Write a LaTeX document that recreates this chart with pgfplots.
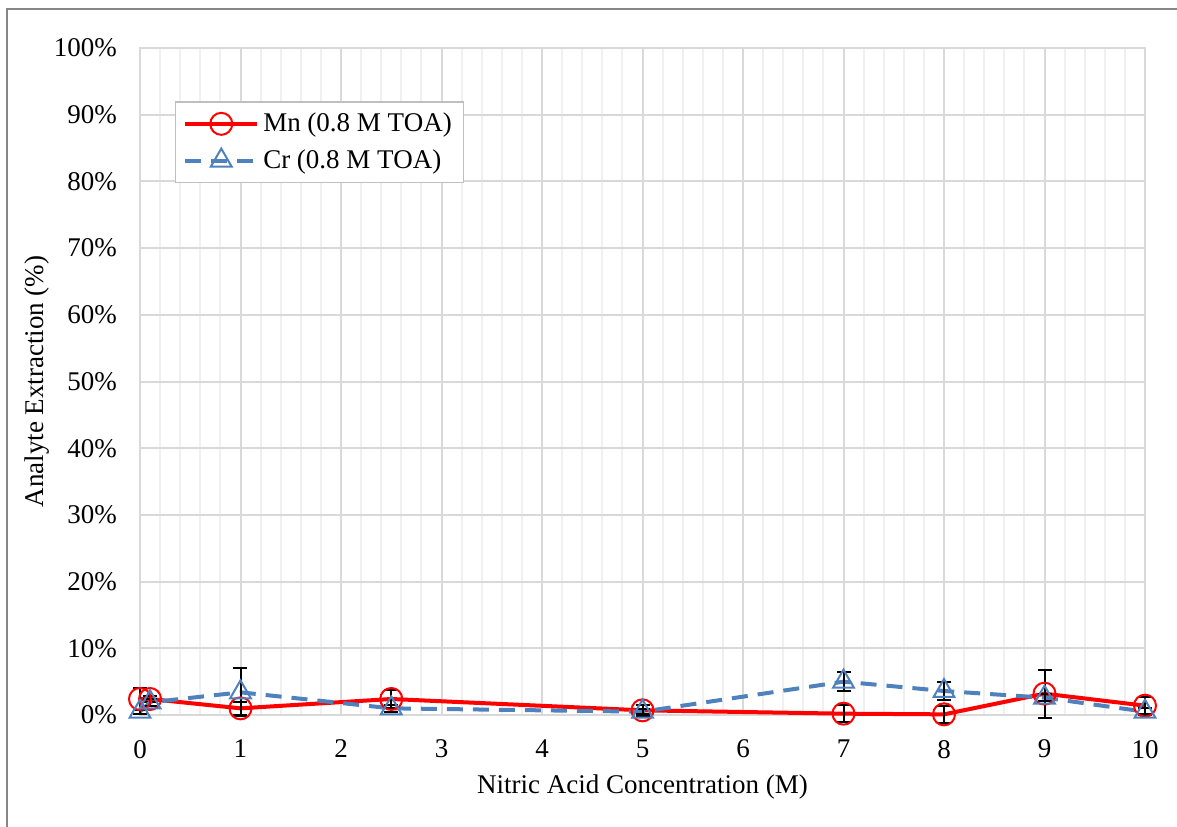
\documentclass[border=0pt]{standalone}
\usepackage{pgfplots}
\pgfplotsset{compat=1.18}
\usepackage{fontspec}
\setmainfont{Liberation Serif}
\definecolor{mnred}{RGB}{255,0,0}
\definecolor{crblue}{RGB}{79,129,189}
\definecolor{majgrid}{RGB}{217,217,217}
\definecolor{mingrid}{RGB}{240,240,240}
\definecolor{axgray}{RGB}{191,191,191}
\definecolor{framegray}{RGB}{134,134,134}
\pgfplotstableread{
x    y    e
0    2.4  1.7
0.1  2.4  0.5
1    1.0  1.0
2.5  2.4  1.4
5    0.7  0.8
7    0.2  1.3
8    0.1  1.3
9    3.2  3.6
10   1.4  1.3
}\mndata
\pgfplotstableread{
x    y    e
0    0.5  0.3
0.1  1.9  0.5
1    3.4  3.6
2.5  1.0  0.5
5    0.5  0.4
7    5.0  1.4
8    3.6  1.4
9    2.6  0.5
10   0.5  0.5
}\crdata
\begin{document}
\begin{tikzpicture}[x=1pt,y=1pt]
\useasboundingbox (-70,-55.5) rectangle (518.5,357.5);
\draw[framegray, line width=1pt] (-66.5,-80) -- (-66.5,353) -- (540,353);
\begin{axis}[
  at={(0,0)}, anchor=south west,
  scale only axis, width=502.5pt, height=333.5pt,
  xmin=0, xmax=10, ymin=0, ymax=100,
  clip=false,
  xtick={0,1,...,10},
  minor x tick num=4,
  ytick={0,10,...,100},
  yticklabels={0\%,10\%,20\%,30\%,40\%,50\%,60\%,70\%,80\%,90\%,100\%},
  /pgf/number format/assume math mode=true,
  major tick length=0pt, minor tick length=0pt,
  xmajorgrids, ymajorgrids, xminorgrids,
  major grid style={majgrid, line width=1pt},
  minor grid style={mingrid, line width=1pt},
  axis line style={majgrid, line width=1pt},
  x axis line style={axgray},
  tick label style={font=\fontsize{13.5}{16}\selectfont, black},
  xticklabel style={yshift=-9pt},
  yticklabel style={xshift=-8pt},
  xlabel={Nitric Acid Concentration (M)},
  ylabel={Analyte Extraction (\%)},
  label style={font=\fontsize{13.5}{16}\selectfont},
  xlabel style={yshift=-1.5pt},
  ylabel style={yshift=-4.5pt},
  legend style={at={(rel axis cs:0.0345,0.92)}, anchor=north west,
    draw=black!25, line width=0.6pt, font=\fontsize{13.5}{16}\selectfont,
    inner xsep=4pt, inner ysep=3.5pt, row sep=3.5pt},
  legend cell align=left,
  legend image code/.code={\draw[mark repeat=2,mark phase=2] plot coordinates {(0pt,0pt)(18pt,0pt)(36pt,0pt)};},
]
\addplot[mnred, line width=2pt, mark=o, mark size=5.5pt, mark options={solid, line width=1pt},
  error bars/.cd, y dir=both, y explicit,
  error bar style={black, line width=1pt},
  error mark options={rotate=90, mark size=3.5pt, black, line width=1pt}]
  table[x=x, y=y, y error=e] {\mndata};
\addlegendentry{Mn (0.8 M TOA)}
\addplot[crblue, line width=2pt, dash pattern=on 8pt off 5pt, mark=triangle, mark size=6pt, mark options={solid, line width=1pt},
  error bars/.cd, y dir=both, y explicit,
  error bar style={black, line width=1pt, solid},
  error mark options={rotate=90, mark size=3.5pt, black, line width=1pt, solid}]
  table[x=x, y=y, y error=e] {\crdata};
\addlegendentry{Cr (0.8 M TOA)}
\end{axis}
\end{tikzpicture}
\end{document}
